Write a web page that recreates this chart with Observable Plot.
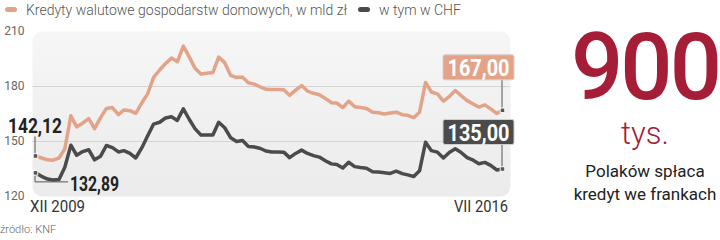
<!DOCTYPE html>
<html><head><meta charset="utf-8">
<script src="https://cdn.jsdelivr.net/npm/d3@7"></script>
<script src="https://cdn.jsdelivr.net/npm/@observablehq/plot@0.6"></script>
<style>
html,body{margin:0;padding:0;background:#fff;}
#wrap{position:relative;width:720px;height:240px;overflow:hidden;font-family:Roboto,"Noto Sans",sans-serif;}
#chart svg{position:absolute;left:0;top:0;}
.leg{position:absolute;top:2px;font-size:14px;line-height:16px;color:#555;font-weight:300;white-space:nowrap;}
.sw{position:absolute;top:7px;width:12px;height:5px;border-radius:3px;}
.big{position:absolute;left:560px;width:170px;text-align:center;white-space:nowrap;}
#src{position:absolute;left:0;top:223px;font-size:11px;line-height:13px;color:#666;font-weight:300;}
</style></head><body>
<div id="wrap">
  <div id="chart"></div>
  <div class="sw" style="left:5px;background:#e2a389"></div>
  <div class="leg" style="left:26px">Kredyty walutowe gospodarstw domowych, w mld zł</div>
  <div class="sw" style="left:358px;background:#4b4b4b"></div>
  <div class="leg" style="left:379px">w tym w CHF</div>
  <div class="big" style="top:32px;font-size:92px;line-height:72px;height:72px;font-weight:500;color:#a51d36;letter-spacing:-3px">900</div>
  <div class="big" style="top:118px;font-size:31px;line-height:32px;font-weight:300;color:#a51d36">tys.</div>
  <div class="big" style="top:160px;font-size:17px;line-height:23px;color:#222">Polaków spłaca<br>kredyt we frankach</div>
  <div id="src">źródło: KNF</div>
</div>
<script>
// monthly observations XII 2009 – VII 2016 (80 months)
const months = d3.utcMonth.range(new Date(Date.UTC(2009, 11, 1)), new Date(Date.UTC(2016, 7, 1)));
// Kredyty walutowe gospodarstw domowych, mld zł
const totalFx = [142.12,141,140,139.8,141,146,164,158,160,162.5,
  157,163,168,168.5,164.7,167.2,166.8,165.3,171,176,
  185,189,192.5,195.5,193.5,202,196,190,186.8,187.2,
  187.6,196,193,186,185,185,182,181.3,179.7,178.5,
  178.4,178.4,178.2,175.2,178,180.5,177.5,176.3,175.5,173.5,
  171.2,171,168.5,172,169,168.5,168,166,165.7,165,
  165.5,166,164.6,164.3,163,166,182.2,177,176,172,
  174.5,177.8,175,172.3,170.5,168.8,170,167.8,165.3,167.00];
// w tym w CHF, mld zł
const chf = [132.89,131,129.5,129,129.3,136,148,142.5,144.5,145.5,
  140,142,147.8,146.7,144.3,145,143.5,141,146.5,153,
  159.5,160.5,162.8,163.5,161.5,167.8,162,157,153.5,153.5,
  153.5,160.5,157.5,152,150,150.5,147.3,147,146.2,144.8,
  144.3,144.3,144.2,141.2,143.5,145.3,143.5,142.3,141.5,139.5,
  137.8,137.5,135.5,138.7,136.3,135.8,135.4,133.5,133.3,133,
  132.6,133.8,132.5,131.8,130.9,134,149.6,145,144.2,141,
  144,146,144,141.2,139.8,137.9,138.6,137,134.5,135.00];
const yTicks = [120, 150, 180, 210];
const gridValues = [150, 180];
const xLabels = ["XII 2009", "VII 2016"];
const startLabels = ["142,12", "132,89"];
const endLabels = ["167,00", "135,00"];

const orange = "#e2a389", dark = "#4b4b4b";
const numFont = "Roboto, sans-serif";

const totalData = months.map((d, i) => ({date: d, v: totalFx[i]}));
const chfData = months.map((d, i) => ({date: d, v: chf[i]}));
const first = 0, last = months.length - 1;

function condensedText(g, x, y, anchor, size, weight, fill, len, str) {
  return g.append("text").attr("x", x).attr("y", y).attr("dy", "0.36em")
    .attr("text-anchor", anchor).attr("fill", fill).attr("font-weight", weight)
    .attr("font-size", size).attr("font-family", numFont)
    .attr("textLength", len).attr("lengthAdjust", "spacingAndGlyphs").text(str);
}

function annotations(index, scales) {
  const X = scales.x, Y = scales.y;
  const g = d3.create("svg:g");
  const x0 = X(months[first]), yt = Y(totalFx[first]), yc = Y(chf[first]);
  // start connectors
  g.append("line").attr("x1", x0).attr("x2", x0).attr("y1", yt).attr("y2", yt - 19)
    .attr("stroke", "#555").attr("stroke-width", 1);
  g.append("path").attr("d", `M${x0},${yc}V${yc + 9.5}H${x0 + 33}`)
    .attr("fill", "none").attr("stroke", "#555").attr("stroke-width", 1);
  // start labels
  condensedText(g, x0, yt - 30, "middle", 21, "bold", "#222", 54, startLabels[0]);
  condensedText(g, x0 + 35, yc + 11, "start", 20, "bold", "#222", 49, startLabels[1]);
  // x labels
  const yb = Y(120);
  condensedText(g, x0 - 5, yb + 10, "start", 17, 400, "#333", 55, xLabels[0]);
  const x1 = X(months[last]);
  condensedText(g, x1 + 6, yb + 10, "end", 17, 400, "#333", 54, xLabels[1]);
  // end boxes
  const boxes = [
    {v: totalFx[last], text: endLabels[0], fill: orange, top: -55},
    {v: chf[last], text: endLabels[1], fill: dark, top: -49}
  ];
  for (const b of boxes) {
    const py = Y(b.v);
    const by = py + b.top, bh = 25;
    g.append("line").attr("x1", x1).attr("x2", x1).attr("y1", by + bh).attr("y2", py)
      .attr("stroke", "#555").attr("stroke-width", 1);
    g.append("rect").attr("x", x1 - 59).attr("y", by).attr("width", 71).attr("height", bh)
      .attr("rx", 2).attr("fill", b.fill).attr("stroke", "#cfcfcf").attr("stroke-width", 1);
    condensedText(g, x1 - 23.5, by + bh / 2 + 0.5, "middle", 23, "bold", "#fff", 62, b.text);
  }
  return g.node();
}

const svg = Plot.plot({
  width: 720, height: 240,
  marginLeft: 32, marginRight: 210, marginTop: 31, marginBottom: 44,
  style: {background: "transparent", fontFamily: "Roboto, sans-serif"},
  x: {type: "utc", domain: [months[first], months[last]], insetLeft: 3, insetRight: 8, axis: null},
  y: {domain: [120, 210], axis: null},
  marks: [
    Plot.frame({fill: "url(#bgGrad)", stroke: "none", rx: 10}),
    Plot.ruleY(gridValues, {stroke: "#d4d4d4", strokeWidth: 1}),
    Plot.axisY(yTicks, {anchor: "left", tickSize: 0, tickPadding: 8, fontSize: 12, color: "#666", label: null}),
    Plot.line(totalData, {x: "date", y: "v", stroke: orange, strokeWidth: 3.5, strokeLinejoin: "round"}),
    Plot.line(chfData, {x: "date", y: "v", stroke: dark, strokeWidth: 3.5, strokeLinejoin: "round"}),
    annotations,
    Plot.dot([totalData[first], chfData[first], totalData[last], chfData[last]],
      {x: "date", y: "v", symbol: "square", r: 2.6, fill: "#555", stroke: "#fff", strokeWidth: 1})
  ]
});
const defs = d3.select(svg).insert("defs", ":first-child");
const grad = defs.append("linearGradient").attr("id", "bgGrad").attr("x1", 0).attr("y1", 0).attr("x2", 0).attr("y2", 1);
grad.append("stop").attr("offset", 0).attr("stop-color", "#f6f6f6");
grad.append("stop").attr("offset", 1).attr("stop-color", "#ebebec");
document.getElementById("chart").appendChild(svg);
</script>
</body></html>
